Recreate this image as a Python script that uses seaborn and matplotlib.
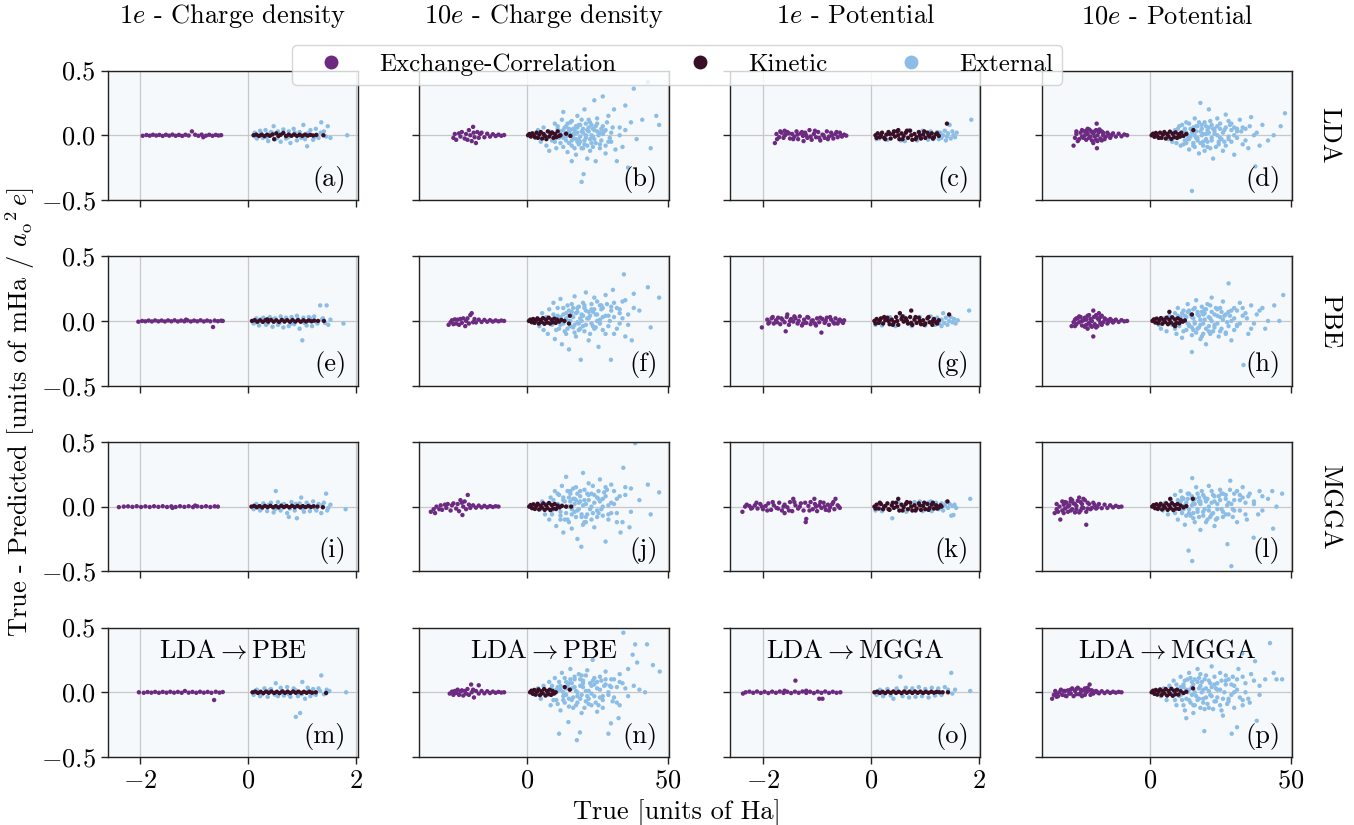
import matplotlib
matplotlib.use("Agg")
import matplotlib.pyplot as plt
from matplotlib.lines import Line2D
import pandas as pd
import seaborn as sns

# points: (true value, true - predicted)
# row 1: LDA
a_xc = [(-1.95,-0.004),(-1.88,0.002),(-1.82,-0.003),(-1.76,0.004),(-1.7,-0.002),(-1.64,0.003),(-1.58,-0.005),(-1.52,0.004),(-1.46,-0.003),(-1.4,0.005),(-1.34,-0.004),(-1.28,0.003),(-1.22,-0.005),(-1.16,0.004),(-1.1,-0.002),(-1.04,0.03),(-0.98,0.004),(-0.92,-0.004),(-0.86,0.005),(-0.83,-0.015),(-0.78,-0.003),(-0.72,0.004),(-0.66,-0.004),(-0.6,0.003),(-0.55,-0.002),(-0.5,0.001)]
a_kin = [(0.1,0.0),(0.15,0.005),(0.2,-0.005),(0.25,0.004),(0.3,-0.006),(0.35,0.005),(0.4,-0.004),(0.45,0.006),(0.48,-0.03),(0.52,0.015),(0.56,-0.005),(0.6,0.004),(0.65,0.018),(0.7,-0.006),(0.75,0.005),(0.8,-0.004),(0.85,0.006),(0.9,-0.005),(0.95,0.004),(1.0,-0.004),(1.05,0.005),(1.1,-0.003),(1.15,0.003),(1.2,-0.002),(1.26,0.003),(1.39,0.0)]
a_ext = [(0.12,0.02),(0.16,-0.025),(0.22,0.035),(0.27,-0.02),(0.32,0.04),(0.37,-0.045),(0.42,0.025),(0.47,0.07),(0.5,-0.03),(0.55,0.03),(0.6,-0.05),(0.65,0.045),(0.7,-0.025),(0.75,0.03),(0.78,-0.06),(0.84,0.05),(0.9,-0.04),(0.95,0.025),(1.02,0.08),(1.05,-0.03),(1.09,-0.085),(1.15,0.04),(1.2,-0.035),(1.25,0.05),(1.3,-0.02),(1.35,0.1),(1.4,0.03),(1.47,0.07),(1.52,-0.02),(1.83,0.0),
         (0.14,-0.01),(0.24,0.015),(0.34,-0.015),(0.44,0.02),(0.54,-0.02),(0.64,0.015),(0.74,-0.015),(0.86,0.02),(0.98,-0.02),(1.1,0.015),(1.22,-0.015),(1.34,0.02),(1.44,-0.01)]

b_xc = [(-26,-0.02),(-25.5,0.01),(-25,-0.035),(-24,0.015),(-23.5,-0.01),(-23,0.025),(-22,-0.025),(-21.5,0.01),(-21,-0.035),(-20.5,0.04),(-20,0.0),(-19.5,-0.045),(-19,0.065),(-18.8,0.02),(-18.5,-0.015),(-18,-0.06),(-17.5,0.025),(-17,-0.02),(-16.5,0.01),(-16,0.02),(-15,-0.015),(-14,0.012),(-13,-0.01),(-12,0.008),(-11,-0.006),(-10,0.005),(-9,-0.004),(-8,0.002)]
b_kin = [(0.5,0.0),(1,0.01),(1.5,-0.01),(2,0.015),(2.5,0.0),(3,-0.015),(3.5,0.02),(4,-0.02),(4.5,0.005),(5,0.025),(5.5,-0.025),(6,0.01),(6.5,-0.005),(7,-0.03),(7.5,0.03),(8,-0.01),(8.5,0.012),(9,0.022),(9.5,-0.02),(10,0.01),(10.5,-0.015),(11,0.03),(11.5,-0.005),(12,0.0),(14,0.012),(15.5,-0.005)]
b_ext = [(3,-0.02),(4,0.04),(5,-0.05),(6,0.06),(7,-0.08),(8,0.03),(8,-0.12),(9,-0.04),(10,0.09),(10.5,-0.1),(11,0.05),(12,-0.06),(12.5,0.12),(13,-0.02),(13,0.18),(13.5,0.01),(14,0.07),(14.5,-0.13),(15,0.02),(15,0.05),(15.5,0.1),(16,-0.08),(16,-0.2),(16.5,-0.02),(17,0.04),(17.5,-0.15),(18,0.15),(18,-0.05),(18.5,-0.03),(19,0.08),(19.5,0.03),(19.5,-0.36),(20,-0.1),(20.2,-0.3),(20.5,0.2),(21,0.0),(21.5,-0.18),(22,0.12),(22.5,-0.03),(23,-0.06),(23.5,0.05),(24,0.27),(24.5,-0.2),(25,0.09),(25.5,0.0),(26,-0.1),(27,0.3),(27.5,0.03),(28,-0.14),(29,0.15),(30,-0.05),(31,0.2),(32,-0.2),(33,0.06),(34,-0.09),(35,0.23),(36,-0.25),(37,0.1),(38,0.36),(39,-0.03),(41,0.12),(43,0.41),(44,-0.1),(46,0.15),(47,0.08),
         (9,0.01),(10,-0.05),(11,0.07),(11.5,-0.02),(12,0.03),(13,-0.09),(13.5,0.06),(14,-0.04),(14.5,0.02),(15,-0.06),(15.5,0.04),(16,0.11),(16.5,0.01),(17,-0.1),(17.5,0.07),(18,0.02),(18.5,-0.07),(19,-0.01),(19.5,0.12),(20,0.05),(20.5,-0.04),(21,0.09),(21.5,-0.08),(22,0.03),(22.5,-0.12),(23,0.08),(23.5,-0.01),(24,0.04),(24.5,-0.06),(25,0.13),(26,0.02),(26.5,-0.04),(27,0.07),(28,-0.08),(28.5,0.1),(29.5,-0.02),(30.5,0.06),(31.5,-0.11),(33,0.0),(35,0.04)]
b_core = [(12,0.0),(13,0.04),(14,-0.01),(15,0.03),(16,-0.04),(17,0.01),(18,0.06),(19,-0.05),(20,0.02),(21,-0.02),(22,0.06),(23,0.0),(24,-0.03),(25,0.03),(26,-0.07),(27,0.01),(28,0.04),(29,-0.05),(30,0.02),(14.5,0.09),(16.5,0.05),(18.5,0.08),(20.5,-0.07),(22.5,0.1),(24.5,0.07),(26.5,0.05),(19.5,-0.1),(23.5,-0.09),(21.5,0.04),(17.5,-0.03)]

c_xc = [(-1.78,-0.06),(-1.75,0.01),(-1.7,-0.015),(-1.66,0.02),(-1.62,-0.02),(-1.58,0.005),(-1.55,0.025),(-1.5,-0.025),(-1.46,0.01),(-1.42,-0.01),(-1.38,0.03),(-1.35,-0.03),(-1.3,0.015),(-1.26,-0.005),(-1.22,0.02),(-1.18,-0.02),(-1.14,0.04),(-1.1,-0.035),(-1.06,0.01),(-1.02,-0.015),(-0.98,0.025),(-0.94,-0.04),(-0.9,0.005),(-0.86,-0.02),(-0.82,0.03),(-0.78,-0.01),(-0.74,0.02),(-0.7,-0.025),(-0.66,0.01),(-0.62,-0.015),(-0.58,0.02),(-0.54,-0.01),(-0.5,0.005),(-0.46,-0.003),(-1.6,0.035),(-1.25,-0.045),
        (-1.74,-0.03),(-1.68,0.03),(-1.6,0.0),(-1.52,0.015),(-1.44,-0.03),(-1.36,0.005),(-1.28,0.025),(-1.2,0.0),(-1.12,-0.01),(-1.04,0.035),(-0.96,-0.02),(-0.88,0.0),(-0.8,-0.03),(-0.72,0.0),(-0.64,0.025),(-0.56,0.0)]
c_kin = [(0.08,0.0),(0.12,0.015),(0.16,-0.015),(0.2,0.02),(0.24,-0.02),(0.28,0.005),(0.32,0.025),(0.36,-0.025),(0.4,0.01),(0.44,-0.01),(0.48,0.03),(0.52,-0.03),(0.56,0.015),(0.6,-0.005),(0.64,0.02),(0.68,-0.02),(0.72,0.035),(0.76,-0.035),(0.8,0.01),(0.84,-0.015),(0.88,0.025),(0.92,-0.025),(0.96,0.005),(1.0,-0.02),(1.04,0.02),(1.08,-0.01),(1.12,0.015),(1.16,-0.015),(1.2,0.01),(1.25,-0.005),(1.4,0.09),(0.5,0.04),
         (0.1,-0.02),(0.18,0.0),(0.26,-0.03),(0.34,0.01),(0.42,0.03),(0.5,0.0),(0.58,-0.03),(0.66,0.035),(0.74,0.0),(0.82,-0.03),(0.9,0.0),(0.98,0.03),(1.06,0.0),(1.14,-0.025),(1.22,0.015)]
c_ext = [(0.1,-0.03),(0.15,-0.025),(0.3,-0.035),(0.45,0.03),(0.55,-0.04),(0.7,0.04),(0.85,-0.04),(0.95,0.035),(1.05,-0.035),(1.1,0.03),(1.15,-0.03),(1.22,0.025),(1.28,0.02),(1.3,-0.02),(1.33,0.0),(1.36,0.035),(1.4,-0.01),(1.42,0.015),(1.45,0.08),(1.47,-0.025),(1.5,0.03),(1.52,0.0),(1.55,-0.015),(1.58,0.02),(1.85,0.12),(1.38,-0.04),(0.62,-0.045),(1.25,-0.03)]

d_xc = [(-27,-0.08),(-26.5,-0.02),(-26,0.01),(-25,-0.03),(-24.5,0.02),(-24,-0.01),(-23,0.03),(-22.5,-0.035),(-22,0.01),(-21.5,-0.02),(-21,0.035),(-20.5,-0.04),(-20,0.015),(-19.5,-0.01),(-19,0.04),(-18.8,0.09),(-18.7,-0.1),(-18.5,-0.045),(-18,0.025),(-17.5,-0.025),(-17,0.03),(-16.5,0.0),(-16,-0.03),(-15,0.02),(-14,-0.02),(-13,0.015),(-12,-0.01),(-11,0.012),(-10,-0.008),(-9,0.006),(-8,0.0),(-22,0.05),(-20,-0.06),
        (-26,0.03),(-25.5,-0.045),(-24,0.04),(-23.5,-0.02),(-23,0.0),(-22.5,0.035),(-21.5,0.045),(-21,-0.01),(-20.5,0.025),(-19.5,0.03),(-19,-0.035),(-18.5,0.0),(-17.8,0.045),(-17,-0.04),(-16.5,0.02),(-15.5,-0.01),(-14.5,0.005),(-13.5,0.0)]
d_kin = [(0.7,0.0),(1.2,0.012),(1.7,-0.012),(2.2,0.018),(2.7,-0.005),(3.2,-0.02),(3.7,0.02),(4.2,-0.02),(4.7,0.005),(5.2,0.025),(5.7,-0.025),(6.2,0.01),(6.7,-0.01),(7.2,0.028),(7.7,-0.028),(8.2,0.012),(8.7,-0.015),(9.2,0.022),(9.7,-0.02),(10.2,0.008),(10.7,-0.01),(11.2,0.02),(12,-0.005),(13,0.01),(15.5,0.04)]
d_ext = [(6.6,-0.03),(7,0.02),(8,-0.05),(9,0.04),(10,-0.02),(10.5,0.07),(11,-0.08),(12,0.03),(12.5,-0.04),(13,0.1),(13.5,0.0),(14,-0.11),(14.5,0.05),(15,-0.43),(15,0.02),(15.5,-0.06),(16,0.13),(16.5,-0.02),(17,0.07),(17.5,-0.14),(18,0.25),(18.5,0.0),(19,-0.08),(19.5,0.1),(20,-0.03),(20.5,0.04),(21,0.2),(21.5,-0.1),(22,0.08),(22.5,-0.18),(23,0.01),(24,0.13),(24.5,-0.05),(25,0.05),(26,-0.12),(27,0.16),(28,-0.03),(29,0.09),(30,-0.15),(31,0.03),(32,0.12),(33,-0.07),(34,0.05),(35,-0.1),(36,0.14),(37.5,-0.24),(38,0.02),(40,0.08),(42,-0.04),(44,0.0),(46.5,0.07),(48,0.17),
         (8.5,0.02),(9.5,-0.06),(10,0.05),(11,-0.01),(11.5,0.08),(12,-0.07),(13,0.02),(13.5,-0.03),(14,0.09),(14.5,-0.01),(15.5,0.06),(16,-0.09),(16.5,0.03),(17,-0.04),(17.5,0.1),(18,-0.06),(18.5,0.05),(19,0.01),(19.5,-0.12),(20,0.07),(20.5,-0.05),(21,0.02),(21.5,0.11),(22,-0.02),(23,0.05),(23.5,-0.09),(24,0.0),(25,0.09),(25.5,-0.03),(26.5,0.04),(27,-0.08),(28,0.11),(29,-0.05),(30,0.06),(31,-0.02),(32.5,0.03),(34,-0.04),(35.5,0.07),(37,0.0),(39,-0.08)]
d_core = [(11,0.01),(12.5,0.05),(14,-0.03),(15,0.04),(16,0.0),(17,-0.02),(18,0.03),(19,-0.05),(20,0.01),(21,0.06),(22,-0.04),(23,0.03),(24,0.07),(25,-0.02),(26,0.02),(27,0.06),(28,-0.01),(29,0.04),(30,0.0),(31,0.05),(13,-0.06),(15.5,-0.08),(18.5,0.08),(20.5,-0.09),(22.5,0.05),(24.5,-0.07),(26.5,-0.05),(28.5,0.08),(33,0.06),(16.5,0.07)]

# row 2: PBE
e_xc = [(-2.03,-0.006),(-1.96,0.0),(-1.9,-0.003),(-1.84,0.003),(-1.78,-0.004),(-1.72,0.004),(-1.66,-0.003),(-1.6,0.003),(-1.54,-0.004),(-1.48,0.004),(-1.42,-0.003),(-1.36,0.005),(-1.3,-0.004),(-1.24,0.003),(-1.18,-0.003),(-1.12,0.004),(-1.06,-0.004),(-1.0,0.003),(-0.94,-0.003),(-0.88,0.005),(-0.82,-0.004),(-0.76,0.003),(-0.7,-0.003),(-0.65,-0.047),(-0.62,0.003),(-0.56,-0.002),(-0.5,0.002),(-0.47,0.0),(-1.15,0.01)]
e_kin = [(0.07,0.0),(0.12,0.006),(0.17,-0.006),(0.22,0.005),(0.27,-0.007),(0.32,0.006),(0.37,-0.005),(0.42,0.007),(0.47,-0.006),(0.52,0.005),(0.57,-0.007),(0.62,0.008),(0.67,-0.005),(0.72,0.006),(0.77,-0.006),(0.82,0.007),(0.87,-0.005),(0.92,0.006),(0.97,-0.006),(1.02,0.005),(1.07,-0.004),(1.12,0.004),(1.17,-0.003),(1.22,0.003),(1.29,0.0),(1.4,0.0),(0.35,0.012)]
e_ext = [(0.1,-0.02),(0.15,0.02),(0.2,-0.035),(0.28,0.025),(0.33,-0.03),(0.4,0.03),(0.45,-0.045),(0.5,0.02),(0.55,-0.03),(0.6,0.035),(0.65,-0.05),(0.7,0.025),(0.75,-0.04),(0.8,0.03),(0.85,-0.025),(0.9,0.04),(0.95,-0.06),(1.0,-0.15),(1.02,0.025),(1.08,-0.035),(1.12,0.03),(1.18,-0.04),(1.22,0.035),(1.28,-0.02),(1.33,0.12),(1.38,0.02),(1.45,0.12),(1.48,-0.03),(1.52,0.01),(1.76,-0.02),
         (0.13,-0.012),(0.23,0.012),(0.36,-0.018),(0.47,0.015),(0.58,-0.015),(0.68,0.012),(0.79,-0.02),(0.92,0.015),(1.04,-0.015),(1.15,0.018),(1.26,-0.01),(1.36,0.01),(1.42,-0.015)]

f_xc = [(-27.7,-0.03),(-27,-0.01),(-26.5,0.005),(-26,-0.025),(-25.5,0.012),(-25,-0.02),(-24.5,0.01),(-24,-0.03),(-23.5,0.015),(-23,-0.015),(-22.5,0.02),(-21.8,-0.04),(-21.5,0.0),(-21,0.02),(-20.5,-0.02),(-20,0.045),(-19.5,0.06),(-19,-0.01),(-18.5,0.015),(-18,-0.012),(-17,0.01),(-16,-0.008),(-15,0.008),(-14,-0.006),(-13,0.006),(-12,-0.005),(-11,0.004),(-10,-0.003),(-9,0.003),(-8,0.0)]
f_kin = [(0.8,0.0),(1.3,0.01),(1.8,-0.01),(2.3,0.015),(2.8,-0.015),(3.3,0.005),(3.8,0.02),(4.3,-0.02),(4.8,0.008),(5.3,-0.008),(5.8,0.022),(6.3,-0.022),(6.8,0.01),(7.3,-0.012),(7.8,0.025),(8.3,-0.02),(8.8,0.01),(9.3,-0.01),(9.8,0.018),(10.3,-0.015),(10.8,0.01),(11.5,-0.005),(12.3,0.008),(13.4,0.0),(15.3,0.04),(15,-0.02)]
f_ext = [(3.5,0.0),(4.5,-0.04),(5.5,0.06),(6,-0.07),(7,0.03),(7.5,-0.1),(8,0.09),(9,-0.03),(9.5,0.14),(10,-0.14),(10.5,0.02),(11,0.1),(11.5,-0.06),(12,0.17),(12.5,-0.18),(13,0.05),(14,-0.1),(14.5,0.12),(15,-0.22),(15.5,0.0),(16,0.07),(16.5,-0.05),(17,0.19),(17.5,-0.12),(18,0.1),(18.5,-0.02),(19.2,-0.3),(19.5,0.05),(20,0.14),(20.5,-0.08),(21,0.22),(21.5,0.02),(22,-0.15),(23,0.09),(23.5,-0.04),(24,0.18),(25,0.0),(25.5,-0.2),(26,0.12),(27,-0.07),(28,0.2),(29,0.04),(29.9,-0.3),(30.6,0.24),(31,-0.1),(32,0.1),(33,-0.02),(34,0.15),(34.5,0.36),(35,-0.12),(36,0.05),(37.3,-0.15),(38,0.21),(40,0.08),(43,0.26),(44,-0.05),(47,0.18),
         (8.5,-0.02),(9.5,0.05),(10.5,-0.07),(11,0.04),(12,-0.03),(13,0.1),(13.5,-0.08),(14,0.02),(15,0.08),(15.5,-0.04),(16,0.13),(16.5,0.03),(17,-0.09),(17.5,0.06),(18,-0.01),(18.5,0.11),(19,-0.06),(20,0.04),(20.5,0.1),(21,-0.03),(22,0.07),(22.5,-0.1),(23,0.13),(24,-0.06),(24.5,0.05),(25,0.15),(26,-0.02),(26.5,0.09),(27,0.03),(28,-0.1),(28.5,0.13),(29.5,0.0),(30,0.08),(31,0.14),(32,-0.06),(33,0.09),(34,0.02),(35,0.16),(36,-0.03),(38,0.1)]
f_core = [(12,0.03),(13,-0.02),(14,0.06),(15,0.0),(16,0.04),(17,-0.03),(18,0.07),(19,0.02),(20,-0.04),(21,0.08),(22,0.02),(23,-0.02),(24,0.09),(25,0.05),(26,0.01),(27,0.1),(28,0.04),(29,-0.04),(30,0.11),(31,0.03),(14.5,-0.06),(16.5,0.1),(18.5,-0.07),(20.5,0.12),(22.5,0.04),(24.5,-0.05),(26.5,0.12),(19.5,0.0),(23.5,0.07),(33,0.06)]

g_xc = [(-2.02,-0.05),(-1.92,0.01),(-1.88,-0.01),(-1.84,0.02),(-1.8,-0.02),(-1.76,0.005),(-1.72,0.025),(-1.68,-0.025),(-1.64,0.01),(-1.6,-0.01),(-1.58,-0.08),(-1.56,0.03),(-1.55,0.05),(-1.52,-0.03),(-1.48,0.015),(-1.44,-0.005),(-1.4,0.02),(-1.36,-0.02),(-1.32,0.035),(-1.28,-0.035),(-1.24,0.01),(-1.2,-0.015),(-1.16,0.025),(-1.12,-0.025),(-1.08,0.005),(-1.04,-0.02),(-1.0,0.02),(-0.96,-0.01),(-0.92,-0.09),(-0.9,0.015),(-0.86,-0.015),(-0.82,0.025),(-0.78,-0.03),(-0.74,0.01),(-0.7,-0.01),(-0.66,0.02),(-0.62,-0.02),(-0.58,0.01),(-0.54,-0.005),(-0.5,0.005),
        (-1.9,-0.02),(-1.82,0.03),(-1.74,-0.01),(-1.66,0.02),(-1.5,0.0),(-1.42,0.035),(-1.34,0.0),(-1.26,-0.02),(-1.18,0.03),(-1.1,0.0),(-1.02,-0.035),(-0.94,0.025),(-0.84,0.0),(-0.76,0.03),(-0.68,-0.02),(-0.6,0.0),(-0.52,-0.015)]
g_kin = [(0.06,0.0),(0.1,0.015),(0.14,-0.015),(0.18,0.02),(0.22,-0.02),(0.26,0.005),(0.3,0.025),(0.34,-0.025),(0.38,0.01),(0.42,-0.01),(0.46,0.03),(0.5,-0.03),(0.53,0.06),(0.56,0.015),(0.6,-0.005),(0.64,0.02),(0.68,-0.02),(0.72,0.03),(0.74,0.08),(0.76,-0.03),(0.8,0.01),(0.84,-0.015),(0.88,0.025),(0.92,-0.025),(0.96,0.005),(1.0,-0.02),(1.04,0.02),(1.08,-0.01),(1.13,-0.03),(1.16,0.015),(1.2,-0.01),(1.25,0.005),(1.44,0.05),
         (0.08,-0.02),(0.16,0.005),(0.24,0.03),(0.32,0.0),(0.4,-0.03),(0.48,0.0),(0.58,0.035),(0.66,0.0),(0.74,-0.015),(0.82,0.03),(0.9,0.0),(0.98,-0.03),(1.06,0.03),(1.14,0.0),(1.22,-0.02)]
g_ext = [(0.08,-0.03),(0.2,-0.035),(0.35,0.03),(0.45,-0.04),(0.6,0.035),(0.75,-0.04),(0.9,0.03),(1.0,-0.035),(1.1,0.035),(1.18,-0.03),(1.22,0.025),(1.26,-0.02),(1.3,0.01),(1.33,0.06),(1.35,-0.015),(1.38,0.025),(1.41,-0.03),(1.44,0.0),(1.47,0.03),(1.5,-0.01),(1.53,0.015),(1.56,-0.02),(1.6,0.005),(1.81,0.08),(1.3,-0.04),(0.55,0.04)]

h_xc = [(-27.7,-0.04),(-27,-0.01),(-26.5,0.01),(-26,-0.025),(-25.5,0.02),(-25,-0.01),(-24.5,0.03),(-24,-0.035),(-23.5,0.005),(-23,0.025),(-22.5,-0.03),(-22,0.04),(-21.5,-0.015),(-21,0.015),(-20.5,-0.045),(-20,0.08),(-20,-0.12),(-19.8,0.03),(-19.5,-0.025),(-19,0.045),(-18.5,-0.04),(-18,0.01),(-17.5,0.03),(-17,-0.03),(-16,0.02),(-15,-0.02),(-14,0.015),(-13,-0.012),(-12,0.01),(-11,-0.008),(-10,0.006),(-9,-0.003),(-8,0.0),(-22,-0.06),(-18,0.06),
        (-26.5,-0.04),(-26,0.02),(-25,0.035),(-24,0.0),(-23,-0.045),(-22.5,0.01),(-21.5,0.045),(-21,-0.035),(-20.5,0.0),(-19,-0.05),(-18.5,0.02),(-17.5,-0.015),(-17,0.04),(-16.5,-0.01),(-15.5,0.01),(-14.5,-0.005),(-13.5,0.004),(-12.5,0.0)]
h_kin = [(1,0.0),(1.5,0.012),(2,-0.012),(2.5,0.018),(3,-0.018),(3.5,0.005),(4,0.022),(4.5,-0.022),(5,0.008),(5.5,-0.008),(6,0.025),(6.5,-0.025),(7,0.07),(7,0.01),(7.5,-0.012),(8,0.028),(8.5,-0.028),(9,0.012),(9.5,-0.015),(10,0.02),(10.5,-0.018),(11,0.008),(11.7,-0.006),(12.5,0.004),(15,0.05),(9,-0.04)]
h_ext = [(3.3,-0.03),(4,-0.06),(5,0.02),(6,-0.08),(7,0.04),(8,-0.03),(9,0.06),(9.5,-0.1),(10,0.1),(10.5,-0.02),(11,0.03),(11.5,-0.13),(12,0.08),(12.5,0.0),(13,-0.07),(13.5,0.13),(14,-0.03),(14.5,0.05),(15,-0.24),(15,-0.11),(15.5,0.09),(16,-0.01),(16.5,0.16),(17,-0.06),(17.5,0.04),(18,-0.14),(18.5,0.11),(19,-0.02),(19.5,0.06),(20,-0.18),(20.5,0.13),(21,-0.08),(21.5,0.02),(22,0.18),(23,-0.05),(24,0.09),(24.5,-0.12),(25,0.03),(26,0.15),(27,-0.09),(28,0.29),(28.5,0.04),(29,-0.15),(30,0.1),(31,-0.04),(32,0.14),(33.3,-0.34),(34,0.06),(35,-0.1),(36,0.12),(37,-0.02),(39,0.08),(41,-0.06),(44.2,0.12),(46,0.0),(47.4,0.2),
         (8,0.02),(9,-0.06),(10,0.04),(10.5,-0.04),(11.5,0.06),(12,-0.08),(13,0.03),(13.5,-0.02),(14,0.08),(15,-0.05),(15.5,0.02),(16,0.1),(16.5,-0.09),(17,0.05),(18,-0.03),(18.5,0.07),(19,-0.1),(19.5,0.01),(20,0.09),(21,-0.04),(21.5,0.12),(22,0.0),(22.5,-0.08),(23,0.05),(24,-0.02),(25,0.1),(25.5,-0.06),(26.5,0.04),(27,-0.1),(28,0.07),(29,0.0),(30,-0.07),(31,0.08),(32,-0.02),(33,0.1),(34.5,0.02),(36,-0.06),(38,0.05),(40,0.1),(42,0.0)]
h_core = [(11,0.0),(12.5,0.04),(14,-0.04),(15,0.03),(16,-0.02),(17,0.07),(18,0.01),(19,0.05),(20,-0.06),(21,0.03),(22,0.07),(23,-0.03),(24,0.04),(25,-0.08),(26,0.01),(27,0.05),(28,-0.04),(29,0.08),(30,0.02),(31,-0.03),(13.5,0.07),(15.5,-0.07),(17.5,-0.05),(19.5,0.09),(21.5,-0.1),(23.5,0.1),(25.5,0.07),(27.5,-0.01),(33,0.04),(18.5,-0.12)]

# row 3: MGGA
i_xc = [(-2.39,-0.004),(-2.3,0.0),(-2.22,0.002),(-2.14,-0.002),(-2.06,0.003),(-1.98,-0.003),(-1.9,0.002),(-1.82,-0.003),(-1.74,0.003),(-1.66,-0.002),(-1.58,0.003),(-1.5,-0.003),(-1.42,0.002),(-1.34,-0.003),(-1.26,0.003),(-1.18,-0.002),(-1.1,0.003),(-1.02,-0.004),(-0.94,0.002),(-0.86,-0.002),(-0.78,0.003),(-0.7,-0.003),(-0.62,0.002),(-0.56,0.0),(-1.4,-0.01),(-0.98,0.008)]
i_kin = [(0.06,0.0),(0.11,0.005),(0.16,-0.005),(0.21,0.004),(0.26,-0.006),(0.31,0.005),(0.36,-0.004),(0.41,0.006),(0.46,-0.005),(0.51,0.004),(0.56,-0.006),(0.61,0.006),(0.66,-0.004),(0.71,0.005),(0.76,-0.005),(0.81,0.006),(0.86,-0.004),(0.91,0.005),(0.96,-0.005),(1.01,0.004),(1.06,-0.004),(1.11,0.004),(1.16,-0.003),(1.21,0.003),(1.28,0.0),(1.38,-0.005)]
i_ext = [(0.1,-0.02),(0.15,0.02),(0.22,-0.03),(0.28,0.025),(0.35,-0.035),(0.42,0.03),(0.47,-0.045),(0.51,0.12),(0.55,0.035),(0.6,-0.03),(0.66,0.02),(0.72,-0.05),(0.75,-0.08),(0.8,0.035),(0.86,-0.03),(0.9,-0.09),(0.95,0.025),(0.98,0.07),(1.03,-0.04),(1.08,0.03),(1.14,-0.035),(1.2,0.04),(1.26,-0.03),(1.3,0.02),(1.35,-0.05),(1.4,0.03),(1.44,0.1),(1.48,-0.01),(1.52,0.015),(1.8,-0.02),
         (0.12,0.01),(0.25,-0.015),(0.38,0.015),(0.5,-0.02),(0.63,0.015),(0.77,-0.015),(0.88,0.02),(1.0,-0.015),(1.12,0.012),(1.24,-0.015),(1.37,0.012),(1.46,-0.03)]

j_xc = [(-34,-0.04),(-33,-0.02),(-32.5,-0.05),(-32,0.0),(-31,-0.02),(-30.5,0.01),(-30,-0.025),(-29,0.015),(-28.5,-0.01),(-28,0.02),(-27,-0.03),(-26.5,0.01),(-26,0.025),(-25,-0.015),(-24.5,0.02),(-24,-0.035),(-23,0.03),(-22.8,-0.065),(-22.5,0.0),(-22,0.04),(-21.5,-0.02),(-20.9,0.09),(-20.5,0.015),(-20,-0.01),(-19,0.01),(-18,-0.008),(-17,0.008),(-16,-0.006),(-15,0.006),(-14,-0.005),(-13,0.004),(-12,-0.003),(-11,0.003),(-10,0.0),(-23.5,0.05)]
j_kin = [(0.9,0.0),(1.4,0.012),(1.9,-0.012),(2.4,0.018),(2.9,-0.018),(3.4,0.005),(3.9,0.022),(4.4,-0.022),(4.9,0.008),(5.4,-0.008),(5.9,0.025),(6.4,-0.025),(6.9,0.01),(7.4,-0.012),(7.9,0.027),(8.4,-0.027),(8.9,0.012),(9.4,-0.015),(9.9,0.02),(10.4,-0.018),(11,0.008),(11.7,-0.006),(12.5,0.005),(14,0.0),(15.8,0.0)]
j_ext = [(4.9,-0.02),(5.5,0.04),(6.5,-0.06),(7,0.02),(8,-0.1),(8.5,0.07),(9,-0.03),(10,0.12),(10.5,-0.15),(11,0.02),(11.5,0.09),(12,-0.07),(12.5,0.16),(13,-0.2),(13.5,0.04),(14,0.23),(14.5,-0.1),(15,0.0),(15.5,0.1),(16,-0.17),(16.5,0.06),(17,-0.04),(17.5,0.15),(18,-0.25),(18.5,0.03),(19,0.12),(19.4,-0.31),(19.5,-0.08),(20,0.26),(20.5,0.05),(21,-0.12),(22,0.18),(22.5,-0.02),(23,0.1),(24,-0.16),(25,0.07),(25.5,-0.05),(26,0.21),(27,0.0),(28,-0.27),(28.5,0.13),(29,-0.1),(30,0.17),(31,0.02),(32,-0.12),(33.3,-0.2),(34.3,0.3),(35,0.09),(36.5,-0.16),(37,0.14),(38.5,0.49),(40,0.05),(43,0.17),(44,-0.06),(47,0.11),
         (8,0.03),(9,-0.06),(9.5,0.05),(10.5,-0.02),(11,0.1),(12,-0.1),(12.5,0.01),(13,0.07),(14,-0.05),(14.5,0.12),(15,-0.12),(15.5,0.04),(16,-0.02),(16.5,0.14),(17,0.06),(17.5,-0.08),(18,0.1),(18.5,-0.02),(19,0.04),(20,-0.14),(20.5,0.13),(21,0.02),(21.5,-0.06),(22,0.09),(23,-0.1),(23.5,0.16),(24,0.03),(25,-0.08),(25.5,0.12),(26.5,-0.02),(27,0.06),(28,0.15),(29,-0.06),(30,0.03),(31,0.12),(32,-0.05),(33,0.08),(34,-0.12),(35,0.15),(37,-0.04)]
j_core = [(11,0.02),(12,-0.04),(13,0.05),(14,0.0),(15,0.07),(16,-0.06),(17,0.02),(18,-0.03),(19,0.08),(20,0.01),(21,-0.08),(22,0.05),(23,0.0),(24,0.09),(25,-0.03),(26,0.04),(27,-0.07),(28,0.08),(29,0.01),(30,-0.05),(13.5,-0.1),(15.5,0.12),(17.5,0.05),(19.5,-0.06),(21.5,0.1),(23.5,-0.05),(25.5,0.06),(27.5,0.11),(32,0.06),(20.5,-0.12)]

k_xc = [(-2.38,-0.04),(-2.33,0.0),(-2.25,0.005),(-2.2,-0.01),(-2.15,0.01),(-2.1,-0.015),(-2.05,0.02),(-2.0,-0.02),(-1.95,0.005),(-1.9,0.025),(-1.85,-0.025),(-1.8,0.01),(-1.75,-0.01),(-1.7,0.03),(-1.65,-0.03),(-1.6,0.015),(-1.55,-0.005),(-1.5,0.035),(-1.46,-0.035),(-1.44,0.06),(-1.4,0.01),(-1.35,-0.015),(-1.3,0.025),(-1.25,-0.03),(-1.21,-0.12),(-1.2,-0.095),(-1.16,0.005),(-1.12,0.035),(-1.08,-0.02),(-1.04,0.02),(-1.0,-0.035),(-0.96,0.01),(-0.92,-0.01),(-0.88,0.03),(-0.84,-0.025),(-0.8,0.015),(-0.76,-0.005),(-0.72,0.02),(-0.68,-0.02),(-0.66,0.06),(-0.62,0.01),(-0.58,-0.01),(-1.6,-0.05),(-1.05,0.06),
        (-2.3,0.015),(-2.22,-0.015),(-2.12,0.03),(-2.02,0.0),(-1.92,-0.03),(-1.82,0.035),(-1.72,-0.015),(-1.62,0.0),(-1.52,-0.03),(-1.42,0.035),(-1.32,0.0),(-1.22,0.03),(-1.14,-0.03),(-1.02,0.0),(-0.94,0.035),(-0.86,0.0),(-0.78,-0.03),(-0.7,0.035),(-0.6,0.0)]
k_kin = [(0.06,0.0),(0.1,0.015),(0.14,-0.015),(0.18,0.02),(0.22,-0.02),(0.26,0.005),(0.3,0.025),(0.34,-0.025),(0.38,0.01),(0.42,-0.01),(0.46,0.03),(0.5,0.06),(0.52,-0.03),(0.56,0.015),(0.6,-0.005),(0.64,0.02),(0.68,-0.02),(0.72,0.03),(0.76,-0.03),(0.8,0.01),(0.84,-0.015),(0.88,0.025),(0.92,-0.025),(0.96,0.005),(1.0,-0.02),(1.04,0.02),(1.08,-0.01),(1.12,0.015),(1.16,-0.015),(1.2,0.01),(1.25,-0.005),(1.3,0.0),(1.41,0.04),
         (0.08,-0.015),(0.16,0.03),(0.24,0.0),(0.32,-0.02),(0.4,0.03),(0.48,0.0),(0.58,-0.03),(0.66,0.035),(0.74,0.0),(0.82,-0.03),(0.9,0.01),(0.98,0.03),(1.06,-0.025),(1.14,0.03),(1.22,-0.015),(1.28,0.01)]
k_ext = [(0.08,-0.03),(0.2,-0.035),(0.39,-0.09),(0.5,0.035),(0.65,-0.04),(0.8,0.035),(0.95,-0.035),(1.05,0.03),(1.12,-0.035),(1.2,0.03),(1.25,-0.02),(1.3,0.025),(1.33,-0.03),(1.36,0.01),(1.39,0.035),(1.42,-0.01),(1.45,0.02),(1.48,-0.07),(1.5,0.005),(1.52,-0.065),(1.54,0.015),(1.57,-0.01),(1.83,0.06),(1.1,0.04),(0.9,0.04)]

l_xc = [(-33.7,-0.05),(-33,-0.02),(-32,0.0),(-31.7,-0.1),(-31,-0.03),(-30.5,0.015),(-30,-0.015),(-29.5,0.03),(-29,-0.04),(-28.5,0.01),(-28,0.04),(-27.5,-0.02),(-27,0.025),(-26.5,-0.045),(-26,0.005),(-25.5,0.045),(-25,0.07),(-24.5,-0.03),(-24,0.02),(-23.5,-0.01),(-23,0.05),(-22.5,-0.14),(-22.5,-0.04),(-22,0.03),(-21,-0.02),(-20,0.03),(-19,-0.015),(-18,0.02),(-17,-0.012),(-16,0.015),(-15,-0.01),(-14,0.01),(-13,-0.006),(-12,0.006),(-11,-0.003),(-10,0.0),(-28,0.06),(-31,0.04),
        (-33,0.02),(-32.5,-0.04),(-30.5,-0.05),(-30,0.035),(-29,0.0),(-28,-0.03),(-27.5,0.05),(-26.5,0.02),(-26,-0.02),(-25,-0.045),(-24.5,0.035),(-24,-0.01),(-23.5,0.06),(-22,-0.015),(-21.5,0.02),(-20.5,-0.01),(-19.5,0.012),(-18.5,-0.005)]
l_kin = [(0.9,0.0),(1.4,0.012),(1.9,-0.012),(2.4,0.018),(2.9,-0.018),(3.4,0.005),(3.9,0.022),(4.4,-0.022),(4.9,0.008),(5.4,-0.008),(5.9,0.025),(6.4,-0.025),(6.9,0.01),(7.3,0.06),(7.4,-0.012),(7.9,0.027),(8.4,-0.027),(8.9,0.012),(9.4,-0.015),(9.9,0.02),(10.4,-0.018),(11,0.008),(12,-0.006),(13,0.004),(15.3,0.06)]
l_ext = [(4.7,-0.03),(5.5,0.03),(6.5,-0.06),(7.5,0.05),(8.5,-0.02),(9,0.09),(10,-0.1),(10.5,0.02),(11,0.12),(11.5,-0.05),(12,0.06),(12.5,-0.14),(13,0.0),(13.8,-0.34),(14,0.1),(14.5,-0.07),(15.1,0.22),(15.1,-0.42),(15.5,0.03),(16,-0.12),(16.5,0.15),(17,-0.02),(17.5,0.07),(18,-0.18),(18.5,0.12),(19,-0.04),(20,0.04),(20.5,-0.1),(21,0.16),(22,-0.06),(22.5,0.09),(23,-0.15),(24,0.02),(25,0.13),(26,-0.08),(27,0.06),(27.6,-0.29),(28.6,0.2),(29,-0.46),(29.5,-0.02),(30,0.1),(31,-0.12),(32,0.05),(33,0.15),(34,-0.06),(35,0.08),(36.9,-0.24),(37,0.02),(39,0.12),(40,-0.03),(42,0.06),(43.5,0.12),(43.8,-0.17),(45,0.0),(47,0.1),
         (8,0.01),(9,-0.05),(10,0.05),(11,-0.02),(11.5,0.07),(12.5,0.01),(13,-0.07),(13.5,0.06),(14,-0.02),(15,0.08),(15.5,-0.05),(16,0.02),(17,0.1),(17.5,-0.08),(18,0.04),(19,0.09),(19.5,-0.02),(20,-0.12),(20.5,0.06),(21,0.0),(22,0.12),(22.5,-0.05),(23,0.04),(24,-0.09),(24.5,0.08),(25.5,-0.02),(26,0.1),(27,-0.06),(28,0.03),(28.5,0.13),(29.5,-0.08),(30,0.05),(31,0.12),(32,-0.03),(33,0.07),(34.5,-0.1),(35.5,0.1),(37,0.04),(38.5,-0.06),(40,0.08)]
l_core = [(11,0.04),(12,-0.02),(13,0.03),(14,-0.05),(15,0.01),(16,0.06),(17,-0.04),(18,0.02),(19,-0.07),(20,0.05),(21,-0.03),(22,0.03),(23,0.08),(24,-0.02),(25,0.05),(26,-0.04),(27,0.09),(28,-0.06),(29,0.02),(30,-0.03),(13.5,0.1),(15.5,-0.09),(17.5,0.04),(19.5,0.07),(21.5,-0.08),(23.5,-0.1),(25.5,0.1),(27.5,0.01),(32,0.09),(34,0.03)]

# row 4: transfer
m_xc = [(-2.02,0.0),(-1.93,-0.004),(-1.86,0.002),(-1.79,-0.003),(-1.72,0.003),(-1.65,-0.004),(-1.58,0.003),(-1.51,-0.003),(-1.44,0.004),(-1.37,-0.003),(-1.3,0.003),(-1.23,-0.004),(-1.17,0.01),(-1.1,-0.003),(-1.03,0.003),(-0.96,-0.004),(-0.89,0.004),(-0.82,-0.003),(-0.75,0.003),(-0.68,-0.004),(-0.63,-0.06),(-0.6,0.004),(-0.53,-0.003),(-0.47,0.002)]
m_kin = [(0.08,0.0),(0.13,0.005),(0.18,-0.005),(0.23,0.004),(0.28,-0.006),(0.33,0.005),(0.38,-0.004),(0.43,0.006),(0.48,-0.005),(0.53,0.004),(0.58,-0.006),(0.63,0.006),(0.68,-0.004),(0.73,0.005),(0.78,-0.005),(0.83,0.006),(0.88,-0.004),(0.93,0.005),(0.98,-0.005),(1.03,0.004),(1.08,-0.004),(1.13,0.004),(1.18,-0.003),(1.25,0.0),(1.44,-0.005)]
m_ext = [(0.1,-0.02),(0.16,0.02),(0.22,-0.03),(0.3,0.03),(0.36,-0.035),(0.42,0.025),(0.51,0.07),(0.55,-0.03),(0.6,0.035),(0.66,-0.025),(0.72,0.04),(0.78,-0.035),(0.84,0.03),(0.88,-0.19),(0.92,-0.03),(0.96,-0.16),(1.0,0.08),(1.05,-0.05),(1.1,0.035),(1.15,-0.03),(1.2,0.025),(1.25,-0.02),(1.3,0.03),(1.35,0.13),(1.4,-0.015),(1.45,0.02),(1.5,0.01),(1.81,0.0),
         (0.13,0.012),(0.26,-0.015),(0.39,0.015),(0.49,-0.018),(0.63,0.012),(0.75,-0.015),(0.87,0.018),(0.99,-0.015),(1.12,0.012),(1.23,-0.012),(1.33,0.01),(1.43,-0.01)]

n_xc = [(-27.3,-0.01),(-26.5,0.005),(-26,-0.02),(-25.5,0.01),(-25,-0.005),(-24.5,0.02),(-24,-0.02),(-23.5,0.005),(-23,0.015),(-22.5,-0.025),(-22,0.01),(-21.5,-0.01),(-21,0.025),(-20.5,-0.02),(-19.7,0.06),(-19.5,0.0),(-19,0.02),(-18.7,-0.04),(-18,0.01),(-17,0.054),(-17,-0.01),(-16,0.01),(-15,-0.008),(-14,0.008),(-13,-0.006),(-12,0.005),(-11,-0.004),(-10,0.003),(-9,-0.002),(-8,0.0)]
n_kin = [(1.2,0.0),(1.7,0.012),(2.2,-0.012),(2.7,0.018),(3.2,-0.018),(3.7,0.005),(4.2,0.022),(4.7,-0.022),(5.2,0.008),(5.7,-0.008),(6.2,0.025),(6.7,-0.025),(7.2,0.01),(7.7,-0.012),(8.2,0.02),(8.7,-0.02),(9.2,0.01),(9.7,-0.01),(10.3,0.0),(13.5,0.04),(15.3,0.02)]
n_ext = [(3,-0.02),(4,0.03),(5,-0.05),(6,0.05),(7,-0.02),(8,0.08),(8.5,-0.1),(9,0.02),(10,0.11),(10.5,-0.06),(11.5,-0.32),(11,0.04),(12,-0.14),(12.5,0.15),(13,0.0),(14,0.08),(14.8,-0.23),(15,-0.05),(15.5,0.18),(16,0.03),(16.5,-0.12),(17,0.1),(17.8,-0.37),(18,-0.03),(18.5,0.14),(18.9,-0.31),(19,0.05),(19.5,-0.16),(20,0.09),(21,-0.07),(21.5,0.17),(22,0.01),(23,-0.1),(23.4,0.25),(24,0.06),(25,-0.15),(26,0.12),(27,-0.03),(28,0.16),(29,-0.32),(29.5,0.05),(29.9,-0.24),(31,0.1),(32,-0.08),(32.6,-0.2),(33,0.14),(34.3,0.46),(35,0.03),(36,0.18),(37.6,0.29),(38.5,0.37),(39.2,0.23),(40,0.02),(42.7,0.37),(44.8,0.21),(47.2,0.16),(42,0.0),
         (8,-0.02),(9,0.05),(9.5,-0.06),(10.5,0.02),(11,-0.09),(11.5,0.08),(12,0.02),(13,-0.06),(13.5,0.11),(14,-0.02),(14.5,0.05),(15,-0.11),(16,0.07),(16.5,-0.04),(17,0.12),(17.5,0.01),(18,-0.08),(19,0.1),(19.5,-0.02),(20,0.04),(20.5,-0.12),(21,0.13),(22,-0.05),(22.5,0.07),(23,-0.01),(24,0.11),(24.5,-0.08),(25,0.03),(26,-0.04),(26.5,0.09),(27,-0.12),(28,0.06),(29,0.0),(30,0.1),(30.5,-0.07),(32,0.04),(33,-0.1),(34,0.07),(36,-0.03),(38,0.05)]
n_core = [(11,0.01),(12,0.05),(13,-0.03),(14,0.03),(15,0.07),(16,-0.06),(17,0.04),(18,0.0),(19,-0.05),(20,0.07),(21,0.01),(22,-0.09),(23,0.05),(24,-0.03),(25,0.08),(26,0.02),(27,-0.06),(28,0.1),(29,-0.02),(30,0.04),(13.5,-0.08),(15.5,0.1),(17.5,-0.1),(19.5,0.13),(21.5,-0.03),(23.5,0.09),(25.5,-0.1),(27.5,0.05),(31,-0.04),(33,0.08)]

o_xc = [(-2.37,-0.01),(-2.32,0.0),(-2.25,0.005),(-2.18,-0.004),(-2.11,0.006),(-2.04,-0.005),(-1.97,0.004),(-1.9,-0.006),(-1.83,0.005),(-1.76,-0.004),(-1.69,0.006),(-1.62,-0.005),(-1.55,0.004),(-1.48,-0.006),(-1.4,0.09),(-1.41,0.005),(-1.34,-0.004),(-1.27,0.006),(-1.2,-0.005),(-1.13,0.004),(-1.06,-0.006),(-0.99,0.005),(-0.96,-0.05),(-0.9,-0.05),(-0.92,-0.004),(-0.85,0.006),(-0.78,-0.005),(-0.71,0.004),(-0.64,-0.004),(-0.57,0.0),(-1.6,0.012),(-1.2,0.012)]
o_kin = [(0.06,0.0),(0.11,0.005),(0.16,-0.005),(0.21,0.004),(0.26,-0.006),(0.31,0.005),(0.36,-0.004),(0.41,0.006),(0.46,-0.005),(0.51,0.004),(0.56,-0.006),(0.61,0.006),(0.66,-0.004),(0.71,0.005),(0.76,-0.005),(0.81,0.006),(0.86,-0.004),(0.91,0.005),(0.96,-0.005),(1.01,0.004),(1.06,-0.004),(1.11,0.004),(1.16,-0.003),(1.21,0.003),(1.26,0.0),(1.32,0.0),(1.42,0.0)]
o_ext = [(0.1,-0.02),(0.16,0.02),(0.22,-0.03),(0.3,0.025),(0.36,-0.025),(0.41,-0.05),(0.47,0.03),(0.54,0.12),(0.58,-0.03),(0.64,0.035),(0.7,-0.04),(0.76,0.03),(0.82,-0.035),(0.88,0.04),(0.94,-0.03),(1.0,0.025),(1.06,-0.04),(1.12,0.035),(1.18,-0.025),(1.24,0.03),(1.3,-0.02),(1.36,0.04),(1.42,0.02),(1.48,0.15),(1.5,-0.01),(1.55,0.02),(1.83,0.01)]

p_xc = [(-34.6,-0.05),(-34,-0.02),(-33,-0.01),(-32.5,-0.03),(-32,0.0),(-31,-0.02),(-30.5,0.01),(-30,-0.025),(-29,0.015),(-28.5,-0.01),(-28,0.02),(-27,-0.03),(-26.5,0.01),(-26,0.025),(-25,-0.015),(-24.5,0.02),(-24,-0.03),(-23,0.03),(-22.5,0.0),(-22,0.035),(-21.3,0.06),(-21,-0.02),(-20.5,0.015),(-20,-0.01),(-19,0.01),(-18,-0.008),(-17,0.008),(-16,-0.006),(-15,0.006),(-14,-0.005),(-13,0.004),(-12,-0.003),(-11,0.003),(-10,0.0),
        (-33.5,0.01),(-33,-0.035),(-31.5,0.02),(-30,0.01),(-29.5,-0.03),(-28,-0.01),(-27.5,0.03),(-26,-0.015),(-25.5,0.035),(-24.5,-0.005),(-23.5,0.015),(-23,-0.02),(-22,0.01),(-21.5,0.02),(-20.5,-0.005),(-19.5,0.004),(-18.5,0.0)]
p_kin = [(0.7,0.0),(1.2,0.012),(1.7,-0.012),(2.2,0.018),(2.7,-0.018),(3.2,0.005),(3.7,0.022),(4.2,-0.022),(4.7,0.008),(5.2,-0.008),(5.7,0.025),(6.2,-0.025),(6.7,0.01),(7.2,-0.012),(7.7,0.027),(8.2,-0.027),(8.7,0.012),(9.2,-0.015),(9.7,0.02),(10.2,-0.018),(11,0.008),(12,-0.006),(13,0.004),(15.4,0.03)]
p_ext = [(4,-0.03),(5,0.03),(6,-0.06),(7,0.05),(8,-0.02),(8.5,0.09),(9.5,-0.1),(10,0.02),(11,0.12),(11.5,-0.06),(12,0.06),(12.5,-0.14),(13,-0.2),(13.5,0.0),(14,0.15),(14.5,-0.08),(15,0.04),(15.5,-0.16),(16,0.1),(16.5,-0.03),(17,0.18),(17.5,0.03),(18,-0.12),(18.5,0.08),(19,-0.05),(19.4,-0.3),(20,0.13),(20.5,-0.09),(21,0.01),(22,0.2),(22.5,-0.13),(23,0.06),(24,-0.04),(25,0.15),(26,-0.18),(27,0.09),(28,-0.07),(29.1,-0.32),(29.5,0.12),(30,0.0),(31,-0.27),(31.5,0.18),(32.8,0.3),(33,-0.1),(34,0.07),(35,-0.05),(36,0.14),(37.4,0.24),(38,-0.22),(39,0.05),(41,0.1),(42.7,0.38),(44,0.15),(45,0.1),(47,0.1),
         (8,0.01),(9,-0.06),(9.5,0.06),(10.5,-0.03),(11,0.04),(12,-0.1),(12.5,0.09),(13,0.02),(14,-0.06),(14.5,0.11),(15,-0.02),(15.5,0.06),(16,-0.1),(17,0.08),(17.5,-0.05),(18,0.14),(18.5,0.0),(19,-0.08),(19.5,0.1),(20,0.03),(21,-0.12),(21.5,0.07),(22,-0.03),(23,0.12),(23.5,-0.07),(24,0.02),(25,-0.1),(25.5,0.09),(26.5,0.0),(27,0.13),(28,-0.05),(29,0.06),(30,-0.12),(31,0.1),(32,-0.04),(33,0.12),(34,0.0),(35.5,-0.08),(37,0.09),(39,-0.02)]
p_core = [(11,-0.02),(12,0.04),(13,-0.05),(14,0.02),(15,0.08),(16,0.0),(17,-0.06),(18,0.05),(19,0.02),(20,-0.04),(21,0.09),(22,0.04),(23,-0.07),(24,0.07),(25,0.02),(26,-0.05),(27,0.06),(28,0.1),(29,-0.02),(30,0.05),(13.5,0.1),(15.5,-0.1),(17.5,0.11),(19.5,-0.13),(21.5,-0.02),(23.5,0.03),(25.5,-0.14),(27.5,-0.09),(31,0.02),(33,-0.06)]

col_titles = [r"1$e$ - Charge density", r"10$e$ - Charge density", r"1$e$ - Potential", r"10$e$ - Potential"]
row_labels = ["LDA", "PBE", "MGGA", ""]
transfer_labels = [r"LDA$\rightarrow$PBE", r"LDA$\rightarrow$PBE", r"LDA$\rightarrow$MGGA", r"LDA$\rightarrow$MGGA"]
letters = "abcdefghijklmnop"
series = ["Exchange-Correlation", "Kinetic", "External"]
colors = {"Exchange-Correlation": "#6c2a80", "Kinetic": "#380f25", "External": "#8cbde6"}

panels = [
    [(a_xc, a_kin, a_ext), (b_xc, b_kin, b_ext + b_core), (c_xc, c_kin, c_ext), (d_xc, d_kin, d_ext + d_core)],
    [(e_xc, e_kin, e_ext), (f_xc, f_kin, f_ext + f_core), (g_xc, g_kin, g_ext), (h_xc, h_kin, h_ext + h_core)],
    [(i_xc, i_kin, i_ext), (j_xc, j_kin, j_ext + j_core), (k_xc, k_kin, k_ext), (l_xc, l_kin, l_ext + l_core)],
    [(m_xc, m_kin, m_ext), (n_xc, n_kin, n_ext + n_core), (o_xc, o_kin, o_ext), (p_xc, p_kin, p_ext + p_core)],
]


def panel_frame(xc, kin, ext):
    # external first so the two tight clouds sit on top of it
    rows = []
    for name, pts in [("External", ext), ("Exchange-Correlation", xc), ("Kinetic", kin)]:
        for x, y in pts:
            rows.append((x, y, name))
    return pd.DataFrame(rows, columns=["x", "y", "series"])


sns.set_style("ticks")
plt.rcParams["font.family"] = ["serif"]
plt.rcParams["font.serif"] = ["cmr10"]
plt.rcParams["mathtext.fontset"] = "cm"
plt.rcParams["axes.formatter.use_mathtext"] = True
plt.rcParams["font.size"] = 19
plt.rcParams["xtick.labelsize"] = 19
plt.rcParams["ytick.labelsize"] = 19
plt.rcParams["text.color"] = "black"
plt.rcParams["xtick.color"] = "black"
plt.rcParams["ytick.color"] = "black"

fig, axes = plt.subplots(4, 4, figsize=(13.54, 8.25), dpi=100, sharex="col", sharey=True)
fig.subplots_adjust(left=0.0794, right=0.9542, top=0.9145, bottom=0.0824, wspace=0.246, hspace=0.434)

for r in range(4):
    for c in range(4):
        ax = axes[r, c]
        df = panel_frame(*panels[r][c])
        sns.scatterplot(data=df, x="x", y="y", hue="series", palette=colors,
                        s=10, linewidth=0, legend=False, ax=ax)
        ax.set_facecolor("#f5f9fb")
        ax.grid(True, color="#c8c8c8", linewidth=0.9)
        ax.set_axisbelow(True)
        for sp in ax.spines.values():
            sp.set_color("#222222")
            sp.set_linewidth(1.0)
        ax.tick_params(length=5, width=1, color="#222222")
        ax.set_xlabel("")
        ax.set_ylabel("")
        ax.set_ylim(-0.5, 0.5)
        ax.set_yticks([-0.5, 0.0, 0.5])
        if c % 2 == 0:
            ax.set_xlim(-2.6, 2.02)
            ax.set_xticks([-2, 0, 2])
        else:
            ax.set_xlim(-38.2, 50.5)
            ax.set_xticks([0, 50])
        ax.text(0.955, 0.16, "(" + letters[4 * r + c] + ")", transform=ax.transAxes,
                ha="right", va="center", fontsize=19)
        if r == 3:
            ax.text(0.5, 0.82, transfer_labels[c], transform=ax.transAxes,
                    ha="center", va="center", fontsize=19)
        if c == 3 and row_labels[r]:
            ax.text(1.15, 0.5, row_labels[r], transform=ax.transAxes, rotation=270,
                    ha="center", va="center", fontsize=19)
        if r == 0:
            ax.text(0.5, 1.42, col_titles[c], transform=ax.transAxes,
                    ha="center", va="center", fontsize=19)

handles = [Line2D([0], [0], marker="o", linestyle="", color=colors[s], markersize=9) for s in series]
fig.legend(handles, series, loc="upper center", bbox_to_anchor=(0.5, 0.9455), ncol=3,
           fontsize=18, handlelength=2.4, handletextpad=0.72, columnspacing=2.16,
           borderpad=0.35, borderaxespad=0.0, framealpha=0.8, edgecolor="#cccccc")

fig.text(0.5, 0.015, "True [units of Ha]", ha="center", va="center", fontsize=19)
fig.text(0.015, 0.5, r"True - Predicted [units of mHa / $a_{\mathrm{o}}{}^2\,e$]",
         rotation=90, ha="center", va="center", fontsize=19)

fig.savefig("out.png", dpi=100)
